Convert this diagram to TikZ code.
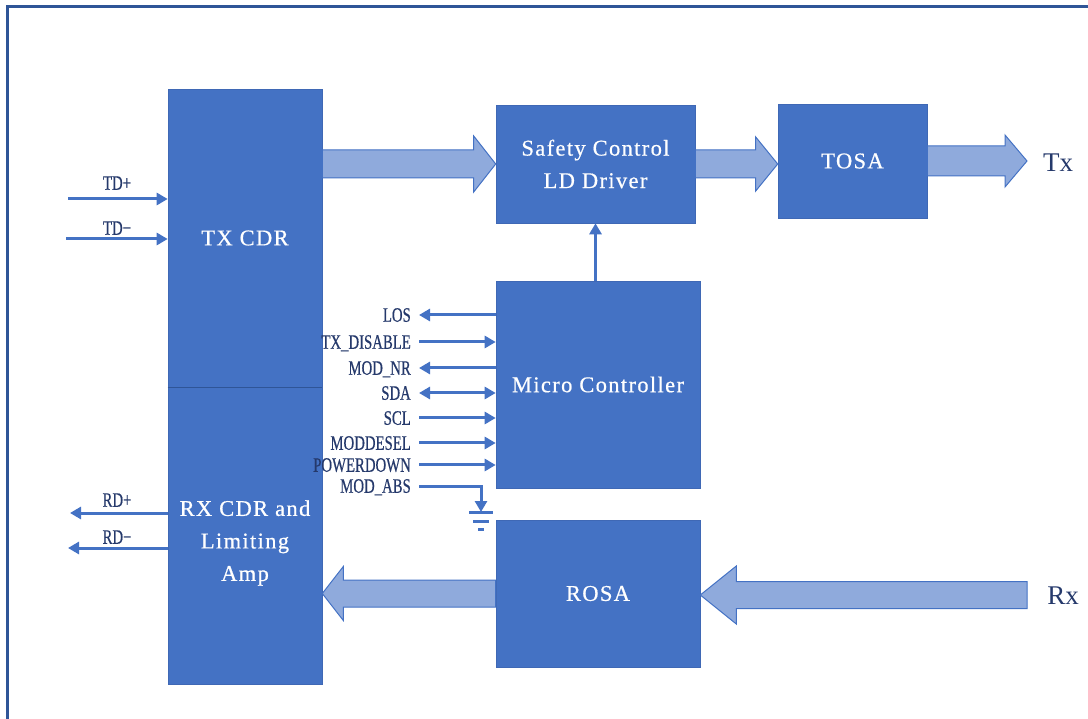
\documentclass[tikz,border=0pt]{standalone}
\usepackage{fontspec}
\setmainfont{Liberation Serif}
\newfontfamily\sigfont{Liberation Serif}[FakeStretch=0.72,FakeBold=0.5]
\newfontfamily\boxfont{Liberation Serif}[LetterSpace=6,FakeBold=0.6]
\usetikzlibrary{arrows.meta,calc}
\definecolor{mblue}{HTML}{4472C4}
\definecolor{lblue}{HTML}{8FAADC}
\definecolor{bborder}{HTML}{3F68B5}
\definecolor{dblue}{HTML}{2F5597}
\definecolor{tcol}{HTML}{25396B}
\newcommand\blkarrow[5]{% #1 signed head length, #2 start, #3 end, #4 half shaft, #5 half head
  \draw[barrow] let \p1=(#2),\p2=(#3) in
  ({\x1},{\y1+#4pt}) -- ({\x2-(#1)},{\y1+#4pt}) -- ({\x2-(#1)},{\y1+#5pt}) -- ({\x2},{\y1})
  -- ({\x2-(#1)},{\y1-#5pt}) -- ({\x2-(#1)},{\y1-#4pt}) -- ({\x1},{\y1-#4pt}) -- cycle;}
\begin{document}
\begin{tikzpicture}[x=1pt,y=-1pt,
  boxfont/.style={text=white,align=center,font=\boxfont\fontsize{22.5}{32.5}\selectfont},
  box/.style={rectangle,inner sep=0pt,fill=mblue,draw=bborder,line width=0.6pt,boxfont},
  lab/.style={inner sep=0pt,text=tcol,font=\sigfont\fontsize{20.5}{22}\selectfont,text height=13.5pt,text depth=0pt},
  sig/.style={lab,anchor=east},
  big/.style={inner sep=0pt,text=tcol,font=\fontsize{27}{30}\selectfont},
  wire/.style={draw=mblue,line width=3pt,-{Triangle[length=11pt,width=12pt]}},
  wiretwo/.style={draw=mblue,line width=3pt,{Triangle[length=11pt,width=12pt]}-{Triangle[length=11pt,width=12pt]}},
  gline/.style={draw=mblue,line width=3pt},
  barrow/.style={fill=lblue,draw=mblue,line width=1pt},
  frame/.style={draw=dblue,line width=3pt}]
\useasboundingbox (0,0) rectangle (1088,719);
\draw[frame] (7,719) -- (7,7) -- (1088,7);

% boxes
\node[box,minimum width=154pt,minimum height=298pt] (tx) at (245,238) {TX CDR};
\node[box,minimum width=154pt,minimum height=297pt] (rx) at (245,535.5) {};
\node[boxfont,inner sep=0pt] (rxt) at (245,543) {RX CDR and\\Limiting\\Amp};
\draw[draw=dblue,line width=1pt] (tx.south west) -- (tx.south east);
\node[box,minimum width=199pt,minimum height=118pt] (sf) at (595.5,164) {Safety Control\\LD Driver};
\node[box,minimum width=149pt,minimum height=114pt] (tosa) at (852.5,161) {TOSA};
\node[box,minimum width=204pt,minimum height=207pt] (mc) at (598,384.5) {Micro Controller};
\node[box,minimum width=204pt,minimum height=147pt] (rosa) at (598,593.5) {ROSA};

% block arrows
\coordinate (txend) at (1027,163);
\coordinate (rxstart) at (1027,595);
\blkarrow{22pt}{tx.east |- sf.west}{sf.west}{14}{28}
\blkarrow{22pt}{sf.east}{sf.east -| tosa.west}{14}{27}
\blkarrow{22pt}{tosa.east}{tosa.east -| txend}{15}{26}
\blkarrow{-36pt}{rxstart}{rxstart -| rosa.east}{13.5}{29}
\blkarrow{-21pt}{rosa.west}{rosa.west -| rx.east}{13.5}{27}
\node[big] (txl) at (1058,163) {Tx};
\node[big] (rxl) at (1063,596) {Rx};

% controller to driver
\draw[wire] (mc.north -| sf.south) -- (sf.south);

% TD / RD
\coordinate (tdp) at (68,199);
\coordinate (tdm) at (66,239);
\coordinate (rdp) at (70,513);
\coordinate (rdm) at (68,548);
\draw[wire] (tdp) -- (tdp -| tx.west);
\draw[wire] (tdm) -- (tdm -| tx.west);
\draw[wire] (rdp -| rx.west) -- (rdp);
\draw[wire] (rdm -| rx.west) -- (rdm);
\node[lab] (tdpl) at (117,183) {TD+};
\node[lab] (tdml) at (117,228) {TD−};
\node[lab] (rdpl) at (117,500) {RD+};
\node[lab] (rdml) at (117,537) {RD−};

% signal lines
\node[sig] (los) at (411,315) {LOS};
\node[sig] (txd) at (411,342) {TX\_DISABLE};
\node[sig] (modnr) at (411,368) {MOD\_NR};
\node[sig] (sda) at (411,393) {SDA};
\node[sig] (scl) at (411,418) {SCL};
\node[sig] (mds) at (411,443) {MODDESEL};
\node[sig] (pwd) at (411,465) {POWERDOWN};
\node[sig] (mabs) at (411,486) {MOD\_ABS};
\draw[wire] (los -| mc.west) -- ([xshift=8pt]los.east);
\draw[wire] ([xshift=8pt]txd.east) -- (txd -| mc.west);
\draw[wire] (modnr -| mc.west) -- ([xshift=8pt]modnr.east);
\draw[wiretwo] ([xshift=8pt]sda.east) -- (sda -| mc.west);
\draw[wire] ([xshift=8pt]scl.east) -- (scl -| mc.west);
\draw[wire] ([xshift=8pt]mds.east) -- (mds -| mc.west);
\draw[wire] ([xshift=8pt]pwd.east) -- (pwd -| mc.west);
\coordinate (gnd) at (481,512);
\draw[wire] ([xshift=8pt]mabs.east) -| (gnd);
\draw[gline] ($(gnd)+(-12,0)$) -- ($(gnd)+(12,0)$);
\draw[gline] ($(gnd)+(-8,9)$) -- ($(gnd)+(8,9)$);
\draw[gline] ($(gnd)+(-3,17)$) -- ($(gnd)+(3,17)$);
\end{tikzpicture}
\end{document}
